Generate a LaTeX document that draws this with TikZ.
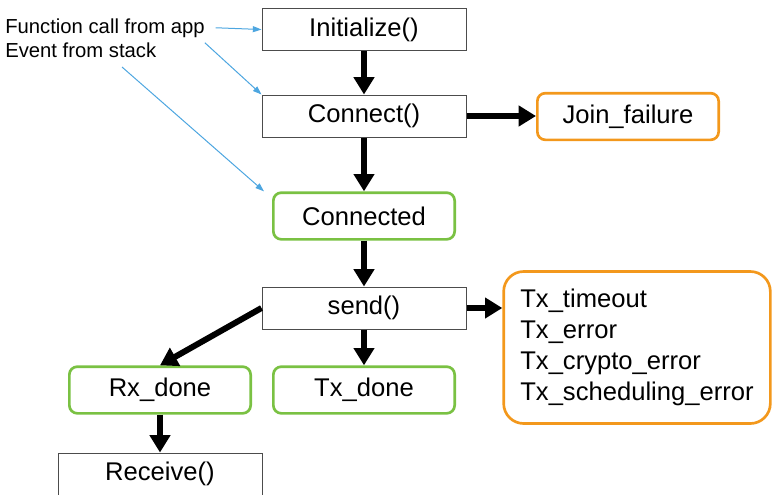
\documentclass[tikz,border=0pt]{standalone}
\usepackage{fontspec}
\setmainfont{Liberation Sans}
\usetikzlibrary{arrows.meta}
\definecolor{boxgreen}{RGB}{122,193,67}
\definecolor{boxorange}{RGB}{243,152,28}
\definecolor{hintblue}{RGB}{77,166,224}

\begin{document}
\begin{tikzpicture}[x=0.75pt, y=-0.75pt,
                    call node/.style={rectangle,draw=black!70,line width=0.75pt,minimum width=153pt,minimum height=31.5pt,font=\fontsize{19.2}{23}\selectfont},
                    event node/.style={rectangle,rounded corners=6pt,draw=boxgreen,line width=2pt,minimum width=136pt,minimum height=35pt,font=\fontsize{19.2}{23}\selectfont},
                    fail node/.style={event node,draw=boxorange},
                    note node/.style={inner sep=0pt,font=\fontsize{15.2}{18}\selectfont},
                    flow/.style={line width=4.5pt,-{Triangle[length=13pt,width=15pt]}},
                    hint/.style={draw=hintblue,line width=0.75pt,-{Triangle[length=6.5pt,width=4.5pt]}}]

  \useasboundingbox (0,0) rectangle (772,494);

  \node[call node] (1) at (364,29.5) {Initialize()};
  \node[call node] (2) at (364,116) {Connect()};
  \node[event node] (3) at (364,216) {Connected};
  \node[call node] (4) at (364,308) {send()};
  \node[event node] (5) at (364,390) {Tx\_done};
  \node[event node] (6) at (160,390) {Rx\_done};
  \node[call node] (7) at (160,474) {Receive()};
  \node[fail node] (8) at (628,116.5) {Join\_failure};
  \node[fail node, rounded corners=15pt, minimum width=200pt, minimum height=114pt,
        align=left, font=\fontsize{19.2}{23.25}\selectfont] (9) at (637,347.5)
        {Tx\_timeout\\Tx\_error\\Tx\_crypto\_error\\Tx\_scheduling\_error};

  \node[note node, anchor=base west] (10) at (5,33) {Function call from app};
  \node[note node, anchor=base west] (11) at (5,57) {Event from stack};
  \coordinate (12) at (122,67);

  % main flow
  \draw[flow] (1) -- (2);
  \draw[flow] (2) -- (3);
  \draw[flow] (2.east) -- (2.east -| 8.west);
  \draw[flow] (3) -- (4);
  \draw[flow] (4) -- (5);
  \draw[flow] (4.east) -- (4.east -| 9.west);
  \draw[flow] (4.west) -- (6.north);
  \draw[flow] (6) -- (7);

  % legend pointers
  \draw[hint] ([xshift=8pt]10.east) -- (1.west);
  \draw[hint] ([yshift=-4pt]10.south east) -- (2.north west);
  \draw[hint] (12) -- ([xshift=-6pt]3.north west);

\end{tikzpicture}
\end{document}
